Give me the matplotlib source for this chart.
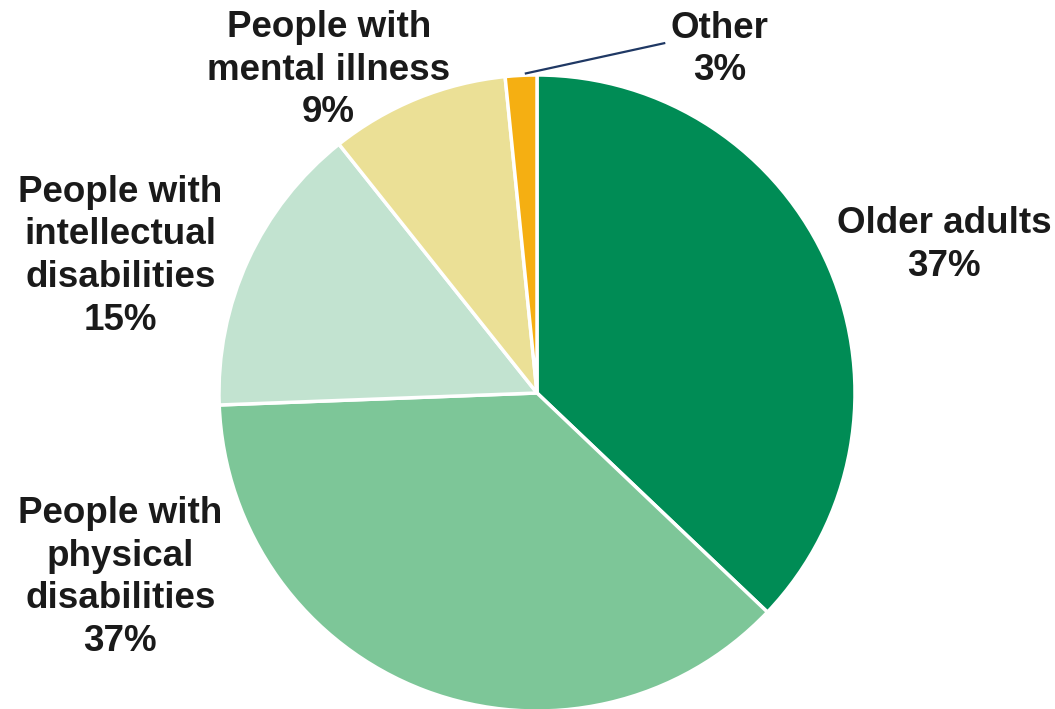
import matplotlib.pyplot as plt

# slice sizes as drawn (clockwise from 12 o'clock)
categories = [
    "Older adults",
    "People with\nphysical\ndisabilities",
    "People with\nintellectual\ndisabilities",
    "People with\nmental illness",
    "Other",
]
shares = [37.1, 37.3, 14.9, 9.1, 1.6]
pct_labels = ["37%", "37%", "15%", "9%", "3%"]
colors = ["#008C55", "#7DC698", "#C2E3D0", "#EBE096", "#F5AF12"]

# label centres in pie units (radius = 1)
label_pos = [(1.28, 0.465), (-1.31, -0.58), (-1.31, 0.43), (-0.655, 1.015), (0.575, 1.08)]

plt.rcParams["font.family"] = ["Liberation Sans", "DejaVu Sans"]

fig = plt.figure(figsize=(10.55, 7.09), dpi=100)
cx, cy, r = 537, 393, 318
ax = fig.add_axes([(cx - r) / 1055, (709 - cy - r) / 709, 2 * r / 1055, 2 * r / 709])

ax.pie(
    shares,
    colors=colors,
    startangle=90,
    counterclock=False,
    radius=1.0,
    wedgeprops=dict(edgecolor="white", linewidth=2.5),
)
ax.set_xlim(-1, 1)
ax.set_ylim(-1, 1)
ax.set_aspect("equal")
ax.axis("off")

for name, pct, (x, y) in zip(categories, pct_labels, label_pos):
    ax.text(
        x, y, f"{name}\n{pct}",
        ha="center", va="center", fontsize=26.5, fontweight="bold",
        color="#1a1a1a", linespacing=1.28, clip_on=False,
    )

# leader line for the small slice
ax.plot([-0.035, 0.40], [1.005, 1.10], color="#1F3864", linewidth=1.6, clip_on=False)

fig.savefig("out.png", dpi=100)
